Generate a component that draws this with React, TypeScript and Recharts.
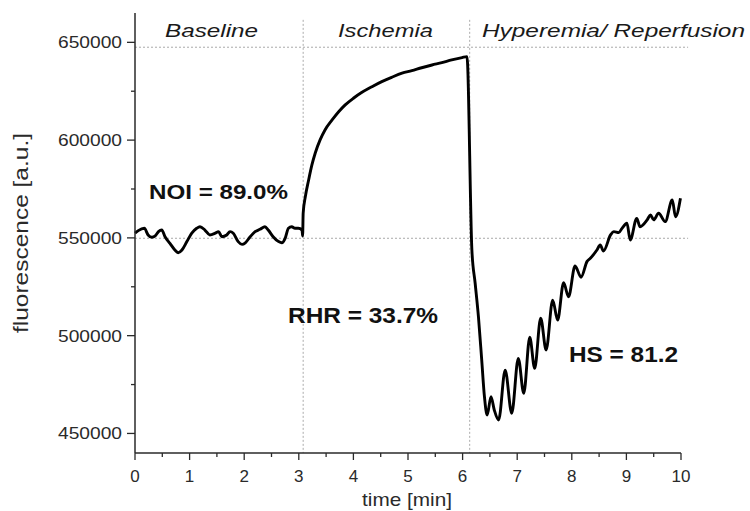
import React from 'react';
import { LineChart, Line, XAxis, YAxis, ReferenceLine } from 'recharts';

// values (time in min, fluorescence in a.u.)
const baselineTime = [0.0, 0.06, 0.17, 0.24, 0.31, 0.37, 0.43, 0.49, 0.55, 0.64, 0.73, 0.79, 0.86, 0.95, 1.04, 1.13, 1.19, 1.28, 1.37, 1.47, 1.53, 1.59, 1.68, 1.74, 1.8, 1.89, 1.96, 2.02, 2.11, 2.2, 2.29, 2.38, 2.44, 2.53, 2.63, 2.69, 2.75, 2.81, 2.87, 2.93, 2.99, 3.06, 3.07];
const baselineFluo = [552400, 553700, 554900, 551500, 550300, 551000, 553200, 554000, 550600, 547200, 543800, 542400, 543800, 548100, 552400, 554900, 555700, 554000, 551500, 552400, 553200, 550600, 551500, 553200, 552400, 548100, 546700, 547500, 550600, 553200, 554400, 555700, 554000, 550600, 548100, 547500, 549800, 554900, 555700, 554900, 554900, 554000, 551000];

const ischemiaTime = [3.08, 3.12, 3.18, 3.24, 3.3, 3.39, 3.48, 3.61, 3.73, 3.85, 4.0, 4.15, 4.34, 4.52, 4.7, 4.89, 5.07, 5.25, 5.44, 5.62, 5.8, 5.99, 6.08];
const ischemiaFluo = [562600, 571100, 579600, 587300, 593300, 600100, 605200, 610300, 614500, 618000, 621400, 624300, 627300, 629900, 632100, 634200, 635500, 637000, 638400, 639600, 641000, 642200, 642700];

const hyperemiaTime = [6.17, 6.23, 6.29, 6.35, 6.4, 6.45, 6.52, 6.58, 6.66, 6.78, 6.9, 7.02, 7.12, 7.23, 7.32, 7.43, 7.53, 7.65, 7.74, 7.85, 7.94, 8.06, 8.17, 8.28, 8.34, 8.46, 8.52, 8.58, 8.71, 8.77, 8.86, 8.92, 9.01, 9.07, 9.19, 9.25, 9.38, 9.44, 9.5, 9.59, 9.71, 9.84, 9.9, 9.99];
const hyperemiaFluo = [543800, 526800, 509700, 487600, 468800, 459400, 468800, 462000, 456900, 482400, 460300, 488400, 470500, 499200, 483300, 508900, 492700, 518200, 508000, 527100, 519900, 535600, 529900, 538000, 539600, 543800, 546400, 543300, 551500, 553200, 552700, 554900, 557500, 548900, 560000, 555700, 559200, 561700, 559200, 562600, 558300, 569400, 560800, 570300];

const xTicks = [0, 0.5, 1, 1.5, 2, 2.5, 3, 3.5, 4, 4.5, 5, 5.5, 6, 6.5, 7, 7.5, 8, 8.5, 9, 9.5, 10];
const yTicks = [450000, 475000, 500000, 525000, 550000, 575000, 600000, 625000, 650000];
const yMajor = [450000, 500000, 550000, 600000, 650000];

const phaseBounds = [3.08, 6.13];
const levelLines = [647500, 549800];

const data = [
  ...baselineTime.map((t, i) => ({ t, v: baselineFluo[i] })),
  ...ischemiaTime.map((t, i) => ({ t, v: ischemiaFluo[i] })),
  ...hyperemiaTime.map((t, i) => ({ t, v: hyperemiaFluo[i] })),
];

const FONT = '"Liberation Sans", Arial, sans-serif';
const AXIS = '#2a2a2a';

const XTick = (props: any) => {
  const { x, y, payload } = props;
  const major = Number.isInteger(payload.value);
  return (
    <g>
      <line x1={x} y1={y} x2={x} y2={y + (major ? 7 : 4)} stroke={AXIS} strokeWidth={1.3} />
      {major && (
        <text x={x} y={y + 29} textAnchor="middle" fontSize={17} fill={AXIS} fontFamily={FONT}>
          {payload.value}
        </text>
      )}
    </g>
  );
};

const YTick = (props: any) => {
  const { x, y, payload } = props;
  const major = yMajor.includes(payload.value);
  return (
    <g>
      <line x1={x - (major ? 8 : 4)} y1={y} x2={x} y2={y} stroke={AXIS} strokeWidth={1.3} />
      {major && (
        <text x={x - 13} y={y + 6} textAnchor="end" fontSize={17} fill={AXIS} fontFamily={FONT}
          textLength={64} lengthAdjust="spacingAndGlyphs">
          {payload.value}
        </text>
      )}
    </g>
  );
};

export default function App() {
  return (
    <div style={{ position: 'absolute', left: 0, top: 0, width: 750, height: 511, background: '#fff' }}>
      <LineChart width={750} height={511} data={data} margin={{ top: 13, right: 69, bottom: 0, left: 0 }}>
        <XAxis dataKey="t" type="number" domain={[0, 10]} ticks={xTicks} interval={0}
          tick={<XTick />} tickLine={false} tickSize={0} tickMargin={0} height={58}
          axisLine={{ stroke: AXIS, strokeWidth: 1.5 }} />
        <YAxis type="number" domain={[440000, 665000]} ticks={yTicks} interval={0} allowDataOverflow
          tick={<YTick />} tickLine={false} tickSize={0} tickMargin={0} width={135}
          axisLine={{ stroke: AXIS, strokeWidth: 1.5 }} />
        {levelLines.map((lv) => (
          <ReferenceLine key={lv} ifOverflow="visible" segment={[{ x: 0, y: lv }, { x: 10.13, y: lv }]}
            stroke="#aaa" strokeDasharray="2 2" strokeWidth={1} />
        ))}
        {phaseBounds.map((b) => (
          <ReferenceLine key={b} ifOverflow="visible" segment={[{ x: b, y: 661500 }, { x: b, y: 440000 }]}
            stroke="#aaa" strokeDasharray="2 2" strokeWidth={1} />
        ))}
        <Line type="monotone" dataKey="v" stroke="#000" strokeWidth={2.9} strokeLinejoin="round"
          dot={false} isAnimationActive={false} />
      </LineChart>
      <svg width={750} height={511} style={{ position: 'absolute', left: 0, top: 0, pointerEvents: 'none' }}
        fontFamily={FONT}>
        <g fontStyle="italic" fontSize={18.5} fill="#1a1a1a">
          <text x={165} y={36.5} textLength={93} lengthAdjust="spacingAndGlyphs">Baseline</text>
          <text x={338} y={36.5} textLength={95} lengthAdjust="spacingAndGlyphs">Ischemia</text>
          <text x={482} y={36.5} textLength={263} lengthAdjust="spacingAndGlyphs">Hyperemia/ Reperfusion</text>
        </g>
        <g fontWeight="bold" fill="#111">
          <text x={149} y={199} fontSize={21} textLength={139} lengthAdjust="spacingAndGlyphs">NOI = 89.0%</text>
          <text x={288} y={322.5} fontSize={22} textLength={150} lengthAdjust="spacingAndGlyphs">RHR = 33.7%</text>
          <text x={569} y={361.5} fontSize={22} textLength={109} lengthAdjust="spacingAndGlyphs">HS = 81.2</text>
        </g>
        <text transform="translate(28,233) rotate(-90)" textAnchor="middle" fontSize={20} fill={AXIS}
          textLength={200} lengthAdjust="spacingAndGlyphs">fluorescence [a.u.]</text>
        <text x={407} y={506} textAnchor="middle" fontSize={19} fill={AXIS}
          textLength={90} lengthAdjust="spacingAndGlyphs">time [min]</text>
      </svg>
    </div>
  );
}
